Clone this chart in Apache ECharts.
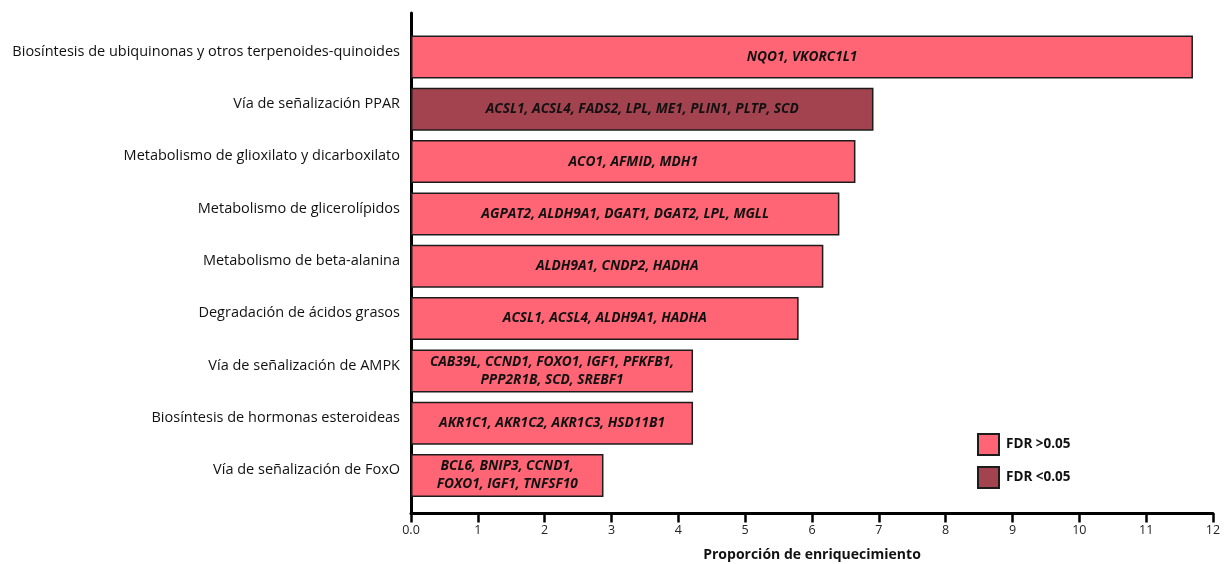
<!DOCTYPE html>
<html>
<head>
<meta charset="utf-8">
<script src="https://cdn.jsdelivr.net/npm/echarts@6/dist/echarts.min.js"></script>
<style>
  html, body { margin: 0; padding: 0; background: #ffffff; }
  #chart { width: 1226px; height: 564px; }
</style>
</head>
<body>
<div id="chart"></div>
<script>
// KEGG pathways, top to bottom
const pathways = [
  'Biosíntesis de ubiquinonas y otros terpenoides-quinoides',
  'Vía de señalización PPAR',
  'Metabolismo de glioxilato y dicarboxilato',
  'Metabolismo de glicerolípidos',
  'Metabolismo de beta-alanina',
  'Degradación de ácidos grasos',
  'Vía de señalización de AMPK',
  'Biosíntesis de hormonas esteroideas',
  'Vía de señalización de FoxO'
];
// enrichment ratio per pathway
const enrichment = [11.70, 6.92, 6.65, 6.41, 6.17, 5.80, 4.22, 4.22, 2.88];
// genes shown inside each bar
const genes = [
  'NQO1, VKORC1L1',
  'ACSL1, ACSL4, FADS2, LPL, ME1, PLIN1, PLTP, SCD',
  'ACO1, AFMID, MDH1',
  'AGPAT2, ALDH9A1, DGAT1, DGAT2, LPL, MGLL',
  'ALDH9A1, CNDP2, HADHA',
  'ACSL1, ACSL4, ALDH9A1, HADHA',
  'CAB39L, CCND1, FOXO1, IGF1, PFKFB1,\nPPP2R1B, SCD, SREBF1',
  'AKR1C1, AKR1C2, AKR1C3, HSD11B1',
  'BCL6, BNIP3, CCND1,\nFOXO1, IGF1, TNFSF10'
];
// true where FDR < 0.05
const significant = [false, true, false, false, false, false, false, false, false];
const xTicks = [0, 1, 2, 3, 4, 5, 6, 7, 8, 9, 10, 11, 12];

const FONT = '"Open Sans", Lato, sans-serif';
const PINK = '#ff6575';
const WINE = '#a3434f';

function seriesData(wantSig) {
  return enrichment.map((v, i) => significant[i] === wantSig
    ? { value: v, label: { formatter: genes[i] } }
    : '-');
}

const barLabel = {
  show: true,
  position: 'inside',
  color: '#111',
  fontFamily: FONT,
  fontSize: 13.7,
  fontWeight: 'bold',
  fontStyle: 'italic',
  lineHeight: 18,
  align: 'center'
};

const chart = echarts.init(document.getElementById('chart'), null, { renderer: 'canvas' });
chart.setOption({
  animation: false,
  backgroundColor: '#ffffff',
  textStyle: { fontFamily: FONT },
  grid: [
    { left: 411, right: 13, top: 30.8, bottom: 62.3, containLabel: false, outerBoundsMode: 'none' },
    { left: 411, right: 13, top: 13, bottom: 51, containLabel: false, outerBoundsMode: 'none' }
  ],
  legend: {
    orient: 'vertical',
    left: 972,
    top: 428,
    itemWidth: 21,
    itemHeight: 21,
    itemGap: 10,
    icon: 'rect',
    textStyle: { fontFamily: FONT, fontSize: 13.5, fontWeight: 'bold', color: '#111', padding: [0, 0, 0, 2] },
    data: ['FDR >0.05', 'FDR <0.05']
  },
  xAxis: [
    {
      gridIndex: 0,
      type: 'value',
      min: 0,
      max: 12,
      interval: 1,
      offset: 11.7,
      axisLine: { show: true, lineStyle: { color: '#000', width: 3 } },
      axisTick: { show: true, length: 9, lineStyle: { color: '#000', width: 2.5 } },
      splitLine: { show: false },
      axisLabel: {
        color: '#222',
        fontSize: 12.5,
        margin: 11,
        fontFamily: FONT,
        formatter: v => (xTicks.indexOf(v) === 0 ? '0.0' : String(v))
      },
      name: 'Proporción de enriquecimiento',
      nameLocation: 'middle',
      nameGap: 35,
      nameTextStyle: { fontFamily: FONT, fontSize: 14, fontWeight: 'bold', color: '#111' }
    },
    {
      gridIndex: 1,
      type: 'value',
      min: 0,
      max: 1,
      show: false
    }
  ],
  yAxis: [
    {
      gridIndex: 0,
      type: 'category',
      inverse: true,
      data: pathways,
      axisLine: { show: false },
      axisTick: { show: false },
      axisLabel: {
        color: '#111', fontSize: 14.5, margin: 11, fontFamily: FONT,
        verticalAlign: 'bottom', lineHeight: 11
      }
    },
    {
      gridIndex: 1,
      type: 'value',
      min: 0,
      max: 1,
      axisLine: { show: true, lineStyle: { color: '#000', width: 3 } },
      axisTick: { show: false },
      axisLabel: { show: false },
      splitLine: { show: false }
    }
  ],
  series: [
    {
      name: 'FDR >0.05',
      type: 'bar',
      xAxisIndex: 0,
      yAxisIndex: 0,
      data: seriesData(false),
      barWidth: 43,
      barGap: '-100%',
      itemStyle: { color: PINK, borderColor: '#1c1c1c', borderWidth: 1.5 },
      label: barLabel
    },
    {
      name: 'FDR <0.05',
      type: 'bar',
      xAxisIndex: 0,
      yAxisIndex: 0,
      data: seriesData(true),
      barWidth: 43,
      barGap: '-100%',
      itemStyle: { color: WINE, borderColor: '#1c1c1c', borderWidth: 1.5 },
      label: barLabel
    }
  ]
});
</script>
</body>
</html>
